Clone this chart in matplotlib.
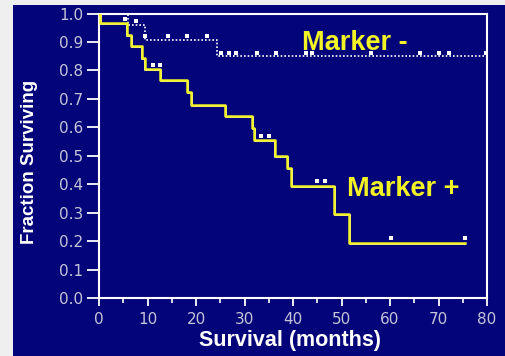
import matplotlib.pyplot as plt
import matplotlib.transforms as mtransforms
from matplotlib.patches import Rectangle

# Curva Kaplan-Meier: Marker + (amarela) e Marker - (pontilhada branca)
pos_t = [0, 0.3, 5.7, 6.7, 8.8, 9.4, 12.6, 18.1, 19.0, 26.0, 31.5, 32.0, 36.2, 38.8, 39.6, 48.4, 51.5, 75.4]
pos_s = [1.0, 0.967, 0.926, 0.885, 0.845, 0.806, 0.767, 0.723, 0.68, 0.64, 0.598, 0.554, 0.50, 0.457, 0.395, 0.295, 0.195, 0.195]
pos_cens_t = [11.1, 12.6, 33.3, 35.1, 45.0, 46.5, 60.3, 75.4]
pos_cens_s = [0.82, 0.82, 0.57, 0.57, 0.41, 0.41, 0.21, 0.21]

neg_t = [0, 6.0, 9.5, 24.3, 79.7]
neg_s = [1.0, 0.958, 0.908, 0.85, 0.85]
neg_cens_t = [5.4, 7.6, 9.5, 14.3, 18.2, 22.3, 25.2, 26.9, 28.3, 32.6, 36.4, 42.6, 44.0,
              56.0, 66.1, 70.2, 72.1, 79.8]
neg_cens_s = [0.982, 0.972, 0.92, 0.92, 0.92, 0.92, 0.862, 0.862, 0.862, 0.862, 0.862, 0.862, 0.862,
              0.862, 0.862, 0.862, 0.862, 0.862]

x_ticks = [0, 10, 20, 30, 40, 50, 60, 70, 80]
y_ticks = [0.0, 0.1, 0.2, 0.3, 0.4, 0.5, 0.6, 0.7, 0.8, 0.9, 1.0]

navy = '#04047a'
yellow = '#f2f224'
tick_col = '#c4c4d8'

fig = plt.figure(figsize=(5.05, 3.56), dpi=100, facecolor='#efefef')
fig.patches.append(Rectangle((13 / 505, 0), 1, 351 / 356, transform=fig.transFigure,
                             facecolor=navy, edgecolor='none', zorder=-10))

ax = fig.add_axes([99 / 505, 1 - 298 / 356, (487 - 99) / 505, (298 - 13.5) / 356])
ax.set_facecolor(navy)

ax.step(neg_t, neg_s, where='post', color='white', lw=1.2, linestyle=(0, (1, 1.2)), zorder=3)
ax.scatter(neg_cens_t, neg_cens_s, marker='s', s=5, color='white', zorder=4, linewidths=0)

shift = mtransforms.offset_copy(ax.transData, fig=fig, x=0.8, y=-1.0, units='dots')
ax.step(pos_t, pos_s, where='post', color='white', lw=1.3, transform=shift, zorder=4)
ax.step(pos_t, pos_s, where='post', color=yellow, lw=1.8, zorder=5)
ax.scatter(pos_cens_t, pos_cens_s, marker='s', s=5, color='white', zorder=6, linewidths=0)

ax.set_xlim(0, 80)
ax.set_ylim(0, 1.0)
ax.set_xticks(x_ticks)
ax.set_xticks([5, 15, 25, 35, 45, 55, 65, 75], minor=True)
ax.set_yticks(y_ticks)
ax.set_yticklabels(['%.1f' % v for v in y_ticks])

for s in ax.spines.values():
    s.set_color('white')
    s.set_linewidth(1.5)
ax.tick_params(which='major', direction='out', width=1.3, color='white',
               labelcolor=tick_col, labelsize=11)
ax.tick_params(axis='y', which='major', length=8.5, pad=3)
ax.tick_params(axis='x', which='major', length=5.8, pad=4)
ax.tick_params(which='minor', axis='x', direction='out', length=3.6, width=1.2, color='white')
for lab in ax.get_xticklabels() + ax.get_yticklabels():
    lab.set_fontfamily('DejaVu Sans')

ax.set_xlabel('Survival (months)', color='white', fontsize=15.5, fontweight='bold',
              family='Liberation Sans')
ax.xaxis.set_label_coords(0.491, -0.15, transform=ax.transAxes)
ax.xaxis.label.set_va('center')
ax.set_ylabel('Fraction Surviving', color='white', fontsize=13.5, fontweight='bold',
              family='Liberation Sans')
ax.yaxis.set_label_coords(-0.18, 0.478, transform=ax.transAxes)
ax.yaxis.label.set_va('center')

ax.text(41.9, 0.873, 'Marker -', color=yellow, fontsize=19.5, fontweight='bold',
        family='Liberation Sans', va='baseline', ha='left')
ax.text(51.2, 0.359, 'Marker +', color=yellow, fontsize=19.5, fontweight='bold',
        family='Liberation Sans', va='baseline', ha='left')

fig.savefig('out.png', dpi=100, facecolor=fig.get_facecolor())
